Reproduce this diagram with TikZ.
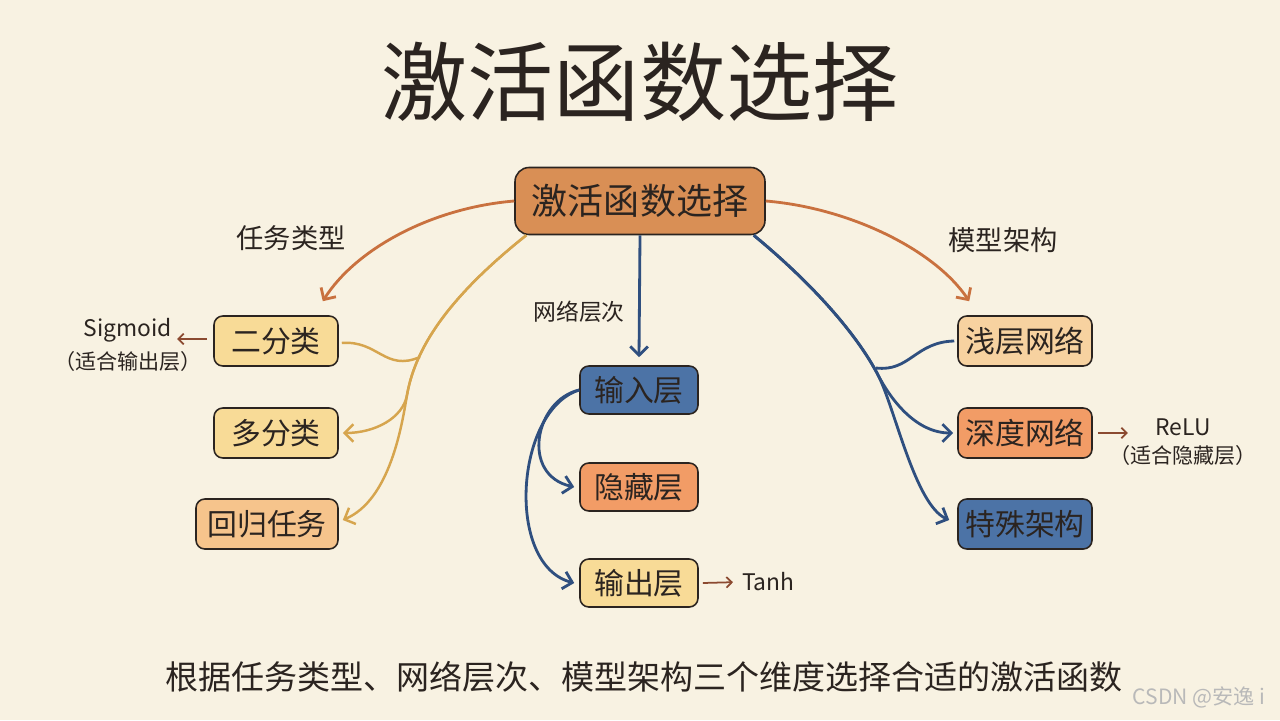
\documentclass[tikz,border=0pt]{standalone}
\usepackage{fontspec}
\setmainfont{Noto Sans CJK SC}
\usetikzlibrary{arrows.meta,positioning}

\definecolor{paper}{HTML}{F8F2E2}
\definecolor{ink}{HTML}{2B2420}
\definecolor{rootfill}{HTML}{D98F55}
\definecolor{paleyellow}{HTML}{F8DB97}
\definecolor{peach}{HTML}{F6C48C}
\definecolor{paleorange}{HTML}{F7D2A0}
\definecolor{orangefill}{HTML}{F29C66}
\definecolor{bluefill}{HTML}{4C73A6}
\definecolor{bluearr}{HTML}{2F4F7F}
\definecolor{orangearr}{HTML}{C9713F}
\definecolor{yellowarr}{HTML}{D6A54E}
\definecolor{brownarr}{HTML}{8B4A30}

\tikzset{
  box/.style={draw=ink, line width=0.9pt, rounded corners=5pt, text=ink,
    inner sep=0pt, minimum height=1cm, font=\fontsize{17}{18}\selectfont},
  rootbox/.style={box, fill=rootfill, minimum width=5cm, minimum height=1.34cm,
    rounded corners=8pt, font=\fontsize{20.5}{22}\selectfont},
  lbl/.style={text=ink, font=\fontsize{15.5}{17}\selectfont},
  note/.style={text=ink, inner sep=1pt, font=\fontsize{13}{15}\selectfont},
  tip/.style={-{Straight Barb[length=5pt,width=10pt]}},
  orangeline/.style={tip, draw=orangearr, line width=1.6pt},
  yellowline/.style={tip, draw=yellowarr, line width=1.4pt},
  blueline/.style={tip, draw=bluearr, line width=1.6pt},
  smallarr/.style={-{Straight Barb[length=3pt,width=6pt]}, draw=brownarr, line width=1pt}
}

\begin{document}
\begin{tikzpicture}[x=0.02cm,y=-0.02cm]
\useasboundingbox (0,0) rectangle (1280,720);
\fill[paper] (0,0) rectangle (1280,720);

% title
\node[text=ink, font=\fontsize{49}{52}\selectfont] (title) at (640,82) {激活函数选择};

% boxes
\node[rootbox] (root) at (640,201) {激活函数选择};

\node[box, fill=paleyellow, minimum width=2.48cm] (er) at (276,341) {二分类};
\node[box, fill=paleyellow, minimum width=2.48cm] (duo) at (276,433) {多分类};
\node[box, fill=peach, minimum width=2.84cm] (hg) at (267,524) {回归任务};

\node[box, fill=bluefill, minimum width=2.36cm, minimum height=0.96cm] (inp) at (639,390) {输入层};
\node[box, fill=orangefill, minimum width=2.36cm, minimum height=0.96cm] (hid) at (639,487) {隐藏层};
\node[box, fill=paleyellow, minimum width=2.36cm, minimum height=0.96cm] (outp) at (639,583) {输出层};

\node[box, fill=paleorange, minimum width=2.68cm] (shallow) at (1025,341) {浅层网络};
\node[box, fill=orangefill, minimum width=2.68cm] (deep) at (1025,433) {深度网络};
\node[box, fill=bluefill, minimum width=2.68cm] (special) at (1025,524) {特殊架构};

% branch labels
\node[lbl] (task) at (291,238) {任务类型};
\node[lbl] (arch) at (1003,240) {模型架构};
\node[lbl, font=\fontsize{13}{15}\selectfont] (level) at (579,312) {网络层次};

% task branch
\draw[orangeline] (root.west) .. controls (430,208) and (355,250) .. ([shift={(-16,-14)}]er.north east);
\draw[yellowline] ([shift={(12,0)}]root.south west) .. controls (445,300) and (415,350) .. (407,395)
  .. controls (403,418) and (375,433) .. ([shift={(4,0)}]duo.east);
\draw[yellowline] ([shift={(12,0)}]root.south west) .. controls (445,300) and (415,350) .. (407,395)
  .. controls (402,425) and (390,500) .. ([shift={(4,-4)}]hg.east);
\draw[yellowline, -] ([shift={(3,2)}]er.east) .. controls (378,340) and (385,372) .. (420,357);

% level branch
\draw[blueline] (root.south) -- ([shift={(0,-8)}]inp.north);
\draw[blueline] (inp.west) .. controls (535,400) and (520,475) .. ([shift={(-5,0)}]hid.west);
\draw[blueline] (inp.west) .. controls (515,410) and (505,565) .. ([shift={(-5,0)}]outp.west);

% architecture branch
\draw[orangeline] (root.east) .. controls (850,208) and (935,250) .. ([shift={(12,-14)}]shallow.north west);
\draw[blueline] ([shift={(-12,0)}]root.south east) .. controls (820,290) and (860,340) .. (878,375)
  .. controls (890,398) and (915,433) .. ([shift={(-4,0)}]deep.west);
\draw[blueline] ([shift={(-12,0)}]root.south east) .. controls (820,290) and (860,340) .. (878,375)
  .. controls (895,408) and (915,505) .. ([shift={(-8,-4)}]special.west);
\draw[blueline, -] ([shift={(-3,0)}]shallow.west) .. controls (915,342) and (910,372) .. (876,368);

% activation notes
\node[note] (sig) at (128,330) {Sigmoid};
\node[note, below=3pt of sig, font=\fontsize{12}{14}\selectfont] (siguse) {（适合输出层）};
\draw[smallarr] ([shift={(-6,-2)}]er.west) -- ([shift={(-36,-2)}]er.west);

\node[note] (relu) at (1183,427) {ReLU};
\node[note, below=3pt of relu, font=\fontsize{12}{14}\selectfont] (reluuse) {（适合隐藏层）};
\draw[smallarr] ([shift={(5,0)}]deep.east) -- ([shift={(35,0)}]deep.east);

\node[note, anchor=west] (tanh) at (740,582) {Tanh};
\draw[smallarr, shorten >=4pt] ([shift={(4,0)}]outp.east) -- (tanh.west);

% bottom line
\node[text=ink, font=\fontsize{18.8}{20}\selectfont] (summary) at (644,677)
  {根据任务类型、网络层次、模型架构三个维度选择合适的激活函数};
\node[text=gray!55, font=\fontsize{12}{14}\selectfont] (mark) at (1199,697) {CSDN @安逸 i};
\end{tikzpicture}
\end{document}
